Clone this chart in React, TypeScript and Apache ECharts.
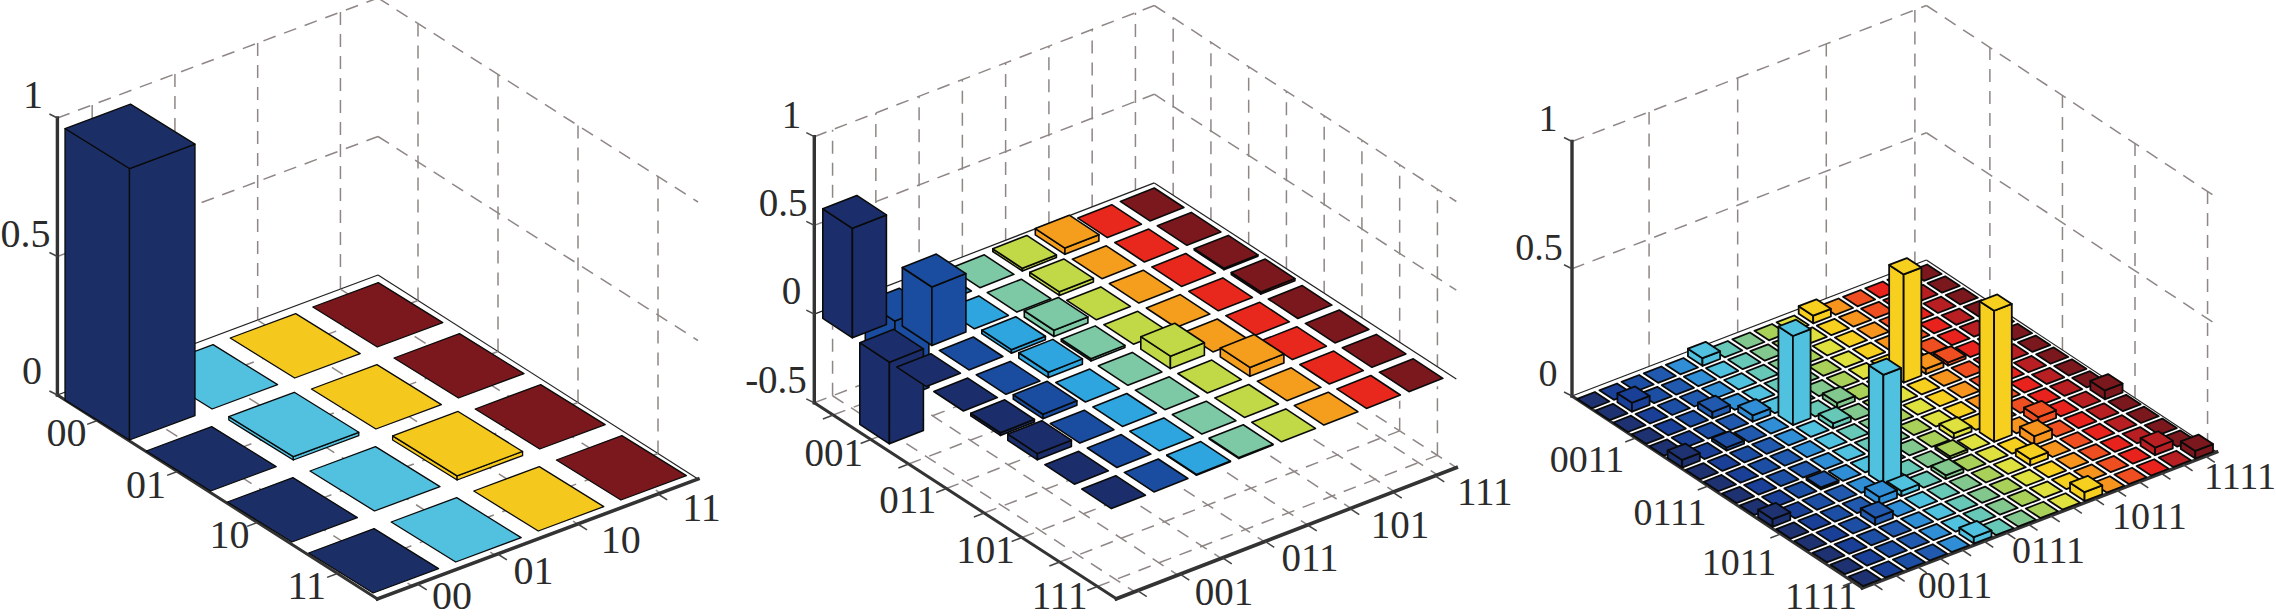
import React, { useEffect, useRef } from "react";
import * as echarts from "echarts";

// ---------- data ----------
const labels4 = ["00", "01", "10", "11"];
const labels8 = ["001", "011", "101", "111"];
const labels16 = ["0011", "0111", "1011", "1111"];
const zLabels1 = ["1", "0.5", "0"];
const zLabels2 = ["1", "0.5", "0", "-0.5"];

const values4: number[][] = [
  [0.98, 0, 0, 0],
  [0, 0.012, 0, 0],
  [0, 0, 0.015, 0],
  [0, 0, 0, 0],
];

const values8: number[][] = [
  [0.617, -0.45, 0, 0, 0.015, 0.035, 0, 0],
  [-0.46, 0.33, 0, 0, 0.02, 0, 0, 0],
  [0, 0, 0.02, 0.035, 0, 0, 0, 0.008],
  [0, 0, 0.03, 0.012, 0, 0, 0, 0.012],
  [0.015, 0.025, 0, 0, 0.07, 0, 0, 0],
  [0.035, 0, 0, 0, 0, 0.05, 0, 0],
  [0, 0, 0, 0, 0, 0, 0, 0],
  [0, 0, 0.004, 0.005, 0, 0, 0, 0],
];

const values16: number[][] = [
  [0, 0, 0, 0, 0, 0.03, 0, 0, 0, 0, 0.03, 0, 0, 0, 0, 0],
  [0, 0.035, 0, 0, 0, 0, 0, 0, 0, 0, 0, 0, 0, 0, 0, 0],
  [0, 0, 0, 0, 0, 0, 0, 0, 0, 0, 0, 0, 0, 0, 0, 0],
  [0, 0, 0, 0.025, 0, 0, 0, 0, 0, 0, 0, 0, 0, 0, 0, 0],
  [0, 0, 0, 0, 0.025, 0, 0, 0, 0, 0, 0, 0, 0, 0, 0, 0],
  [0.03, 0, 0.012, 0, 0, 0.35, 0, 0.02, 0, 0, 0.425, 0.02, 0.012, 0, 0, 0],
  [0, 0, 0, 0, 0, 0, 0.02, 0, 0, 0, 0, 0, 0, 0, 0, 0],
  [0, 0, 0, 0, 0, 0, 0, 0, 0, 0, 0, 0, 0, 0, 0, 0],
  [0, 0, 0, 0, 0, 0, 0, 0, 0, 0, 0, 0, 0, 0, 0, 0],
  [0, 0, 0, 0.008, 0, 0, 0, 0, 0, 0.02, 0, 0, 0, 0, 0, 0],
  [0.03, 0, 0, 0, 0, 0.43, 0, 0, 0.01, 0, 0.515, 0, 0.03, 0, 0, 0.035],
  [0, 0, 0, 0, 0.03, 0.02, 0, 0.015, 0, 0, 0, 0.035, 0, 0, 0, 0],
  [0, 0, 0, 0.028, 0, 0, 0, 0, 0, 0, 0.025, 0, 0, 0, 0, 0],
  [0, 0, 0, 0, 0, 0, 0, 0, 0, 0, 0, 0, 0, 0, 0, 0],
  [0, 0, 0, 0, 0, 0, 0, 0, 0, 0, 0, 0, 0, 0, 0.03, 0],
  [0, 0, 0, 0, 0, 0.025, 0, 0, 0, 0, 0.035, 0, 0, 0, 0, 0.03],
];

const colors4 = ["#1b2e66", "#52c0df", "#f5c81e", "#7b181d"];
const colors8 = ["#1b2e6b", "#1a4da0", "#2ea5de", "#7dc8a5", "#c1d946", "#f59e1d", "#e8281c", "#7b181d"];
const colors16 = [
  "#1e3170", "#193f97", "#1c4ea4", "#2059ad", "#2f8ed5", "#50c2df", "#68c8b8", "#82c88e",
  "#a9d15a", "#dfe23e", "#f7cf1f", "#f6941e", "#ef4f20", "#e8221c", "#b81f23", "#7b181d",
];

// ---------- layout of each panel (projection of the 3D box onto the page) ----------
type V = [number, number];
interface Panel {
  n: number; values: number[][]; colors: string[];
  L: V; a: V; b: V; h: number; zFloor: number; zTicks: number[]; zLabels: string[]; zLabelPos: V[];
  F00: V; sr: V; sc: V; wr: V; wc: V; stroke: number;
  wallIdx: number[]; wallStart: number; wallStep: number;
  rowTickIdx: number[]; colTickIdx: number[];
  rowLabels: string[]; colLabels: string[]; rowLabelPos: V[]; colLabelPos: V[]; fontSize: number;
  gridOverPlane: boolean; floorGrid: boolean;
}

const panels: Panel[] = [
  {
    n: 4, values: values4, colors: colors4,
    L: [57.4, 395], a: [80, 51], b: [80.15, -30], h: 277, zFloor: 0,
    zTicks: [1, 0.5, 0], zLabels: zLabels1, zLabelPos: [[33, 94], [25.5, 233], [32, 370]],
    F00: [129.5, 440], sr: [81.2, 51], sc: [82.6, -31], wr: [64.5, 40], wc: [65.5, -24.4], stroke: 1.3,
    wallIdx: [0, 1, 2, 3], wallStart: 0.4338, wallStep: 1.0325,
    rowTickIdx: [0, 1, 2, 3], colTickIdx: [0, 1, 2, 3],
    rowLabels: labels4, colLabels: labels4,
    rowLabelPos: [[66.6, 432], [146, 484], [229.6, 534], [306.7, 585.5]],
    colLabelPos: [[452, 595], [533.5, 570.5], [620.7, 539], [701.5, 507]],
    fontSize: 40, gridOverPlane: true, floorGrid: true,
  },
  {
    n: 8, values: values8, colors: colors8,
    L: [814.3, 402.8], a: [37.75, 24.5], b: [42.5, -16.4], h: 177.4, zFloor: -0.5,
    zTicks: [1, 0.5, 0, -0.5], zLabels: zLabels2, zLabelPos: [[791.5, 114], [783, 202], [791.5, 290], [776, 379]],
    F00: [852.4, 337.8], sr: [37, 24.4], sc: [42.5, -16.7], wr: [29.6, 19.5], wc: [34, -13.4], stroke: 1.6,
    wallIdx: [0, 1, 2, 3, 4, 5, 6, 7], wallStart: 0.43, wallStep: 1.018,
    rowTickIdx: [0, 1, 2, 3, 4, 5, 6, 7], colTickIdx: [0, 1, 2, 3, 4, 5, 6, 7],
    rowLabels: labels8, colLabels: labels8,
    rowLabelPos: [[833.7, 452], [907.8, 499.8], [985.4, 549], [1059.6, 595]],
    colLabelPos: [[1224, 591], [1310, 557], [1400, 524.6], [1484.7, 491]],
    fontSize: 39, gridOverPlane: false, floorGrid: true,
  },
  {
    n: 16, values: values16, colors: colors16,
    L: [1572, 396], a: [18.14, 12], b: [22.15, -8.5], h: 254.5, zFloor: 0,
    zTicks: [1, 0.5, 0], zLabels: zLabels1, zLabelPos: [[1548, 118], [1539, 247], [1548, 372.5]],
    F00: [1591.7, 408.3], sr: [18.09, 11.85], sc: [22.15, -8.5], wr: [14.5, 9.5], wc: [17.7, -6.8], stroke: 1.8,
    wallIdx: [3, 7, 11, 15], wallStart: 0.48, wallStep: 1,
    rowTickIdx: [3, 7, 11, 15], colTickIdx: [0, 1, 2, 3, 4, 5, 6, 7, 8, 9, 10, 11, 12, 13, 14, 15],
    rowLabels: labels16, colLabels: labels16,
    rowLabelPos: [[1587, 459], [1670, 511.6], [1739, 562], [1821, 596]],
    colLabelPos: [[1955, 584.7], [2048.5, 550], [2149.4, 515.5], [2240, 476]],
    fontSize: 38, gridOverPlane: false, floorGrid: false,
  },
];

const DASH = "#8e8785";
const AXIS = "#333333";
const DASH_STYLE = { stroke: DASH, lineWidth: 1.5, lineDash: [13, 9], fill: "none" };

function frameRenderer(p: Panel) {
  return (_params: any, api: any) => {
    const W = (u: number, v: number, z: number): V =>
      api.coord([
        p.L[0] + u * p.a[0] + v * p.b[0],
        p.L[1] + u * p.a[1] + v * p.b[1] - (z - p.zFloor) * p.h,
      ]);
    const kids: any[] = [];
    const line = (A: V, B: V, style: any) =>
      kids.push({ type: "line", shape: { x1: A[0], y1: A[1], x2: B[0], y2: B[1] }, style });
    const n = p.n;
    const wallV = p.wallIdx.map((i) => p.wallStart + i * p.wallStep);
    const wallU = p.wallIdx.map((i) => i + 0.5);

    // wall levels
    p.zTicks.filter((z) => z > p.zFloor && z !== 0).forEach((z) => {
      line(W(0, 0, z), W(0, n, z), DASH_STYLE);
      line(W(0, n, z), W(n, n, z), DASH_STYLE);
    });
    if (p.zFloor < 0) {
      line(W(0, 0, p.zFloor), W(0, n, p.zFloor), DASH_STYLE);
      line(W(0, n, p.zFloor), W(n, n, p.zFloor), DASH_STYLE);
    }
    // wall verticals
    wallV.forEach((v) => line(W(0, v, p.zFloor), W(0, v, 1), DASH_STYLE));
    wallU.forEach((u) => line(W(u, n, p.zFloor), W(u, n, 1), DASH_STYLE));

    const floorGrid = () => {
      wallV.forEach((v) => line(W(0, v, p.zFloor), W(n, v, p.zFloor), DASH_STYLE));
      wallU.forEach((u) => line(W(u, 0, p.zFloor), W(u, n, p.zFloor), DASH_STYLE));
    };
    if (p.floorGrid && !p.gridOverPlane) floorGrid();

    // base plane at z = 0
    kids.push({
      type: "polygon",
      shape: { points: [W(0, 0, 0), W(0, n, 0), W(n, n, 0), W(n, 0, 0)] },
      style: { fill: "#ffffff", stroke: "none" },
    });
    line(W(0, 0, 0), W(0, n, 0), { stroke: "#222", lineWidth: 1.2 });
    line(W(0, n, 0), W(n, n, 0), { stroke: "#222", lineWidth: 1.2 });
    if (p.floorGrid && p.gridOverPlane) floorGrid();

    // axes
    const axisStyle = { stroke: AXIS, lineWidth: 3.4, lineCap: "square" };
    line(W(0, 0, p.zFloor), W(0, 0, 1), axisStyle);
    line(W(0, 0, p.zFloor), W(n, 0, p.zFloor), { ...axisStyle, lineWidth: 3 });
    line(W(n, 0, p.zFloor), W(n, n, p.zFloor), { ...axisStyle, lineWidth: 3.6 });

    const tickStyle = { stroke: "#444", lineWidth: 1.5 };
    p.zTicks.forEach((z) => {
      const A = W(0, 0, z);
      line(A, [A[0] - 8, A[1] - 4], tickStyle);
    });
    const unit = (d: V): V => {
      const l = Math.hypot(d[0], d[1]);
      return [d[0] / l, d[1] / l];
    };
    const ub = unit(p.b);
    const ua = unit(p.a);
    p.rowTickIdx.forEach((i) => {
      const A = W(i + 0.5, 0, p.zFloor);
      line(A, [A[0] - ub[0] * 11, A[1] - ub[1] * 11], tickStyle);
    });
    p.colTickIdx.forEach((i) => {
      const A = W(n, i + 0.5, p.zFloor);
      line(A, [A[0] + ua[0] * 11, A[1] + ua[1] * 11], tickStyle);
    });

    // texts
    const text = (s: string, pos: V) => {
      const c = api.coord(pos);
      kids.push({
        type: "text",
        style: {
          text: s, x: c[0], y: c[1], fill: "#2b2b2b",
          fontFamily: "Liberation Serif", fontSize: p.fontSize, textAlign: "center", textVerticalAlign: "middle",
        },
      });
    };
    p.zLabels.forEach((s, i) => text(s, p.zLabelPos[i]));
    p.rowLabels.forEach((s, i) => text(s, p.rowLabelPos[i]));
    p.colLabels.forEach((s, i) => text(s, p.colLabelPos[i]));
    return { type: "group", children: kids };
  };
}

function barRenderer(p: Panel) {
  return (_params: any, api: any) => {
    const r = api.value(0);
    const c = api.value(1);
    const z = api.value(2);
    const fill = p.colors[c];
    const fx = p.F00[0] + r * p.sr[0] + c * p.sc[0];
    const fy = p.F00[1] + r * p.sr[1] + c * p.sc[1];
    const pt = (x: number, y: number, zz: number): V => api.coord([x, y - zz * p.h]);
    const lx = fx - p.wr[0], ly = fy - p.wr[1];
    const rx = fx + p.wc[0], ry = fy + p.wc[1];
    const bx = lx + p.wc[0], by = ly + p.wc[1];
    const top = Math.max(z, 0), bot = Math.min(z, 0);
    const style = { fill, stroke: "#0a0a0a", lineWidth: p.stroke, lineJoin: "round" };
    const kids: any[] = [];
    if (z !== 0) {
      kids.push({ type: "polygon", shape: { points: [pt(lx, ly, top), pt(fx, fy, top), pt(fx, fy, bot), pt(lx, ly, bot)] }, style });
      kids.push({ type: "polygon", shape: { points: [pt(fx, fy, top), pt(rx, ry, top), pt(rx, ry, bot), pt(fx, fy, bot)] }, style });
    }
    kids.push({ type: "polygon", shape: { points: [pt(lx, ly, top), pt(fx, fy, top), pt(rx, ry, top), pt(bx, by, top)] }, style });
    return { type: "group", children: kids };
  };
}

function cells(values: number[][]) {
  const out: number[][] = [];
  values.forEach((row, r) => row.forEach((v, c) => out.push([r, c, v])));
  return out.sort((A, B) => A[0] - A[1] - (B[0] - B[1]));
}

export default function App() {
  const ref = useRef<HTMLDivElement>(null);
  useEffect(() => {
    document.body.style.margin = "0";
    const chart = echarts.init(ref.current!, undefined, { renderer: "svg" });
    const series: any[] = [];
    panels.forEach((p, i) => {
      series.push({
        type: "custom", name: `frame${i}`, coordinateSystem: "cartesian2d", silent: true, clip: false,
        renderItem: frameRenderer(p), data: [[0, 0]], encode: { x: 0, y: 1 },
      });
      series.push({
        type: "custom", name: `bars${i}`, coordinateSystem: "cartesian2d", silent: true, clip: false,
        renderItem: barRenderer(p), data: cells(p.values), encode: { x: 0, y: 1 },
      });
    });
    chart.setOption({
      animation: false,
      backgroundColor: "#ffffff",
      grid: { left: 0, top: 0, right: 0, bottom: 0 },
      xAxis: { type: "value", min: 0, max: 2276, show: false },
      yAxis: { type: "value", min: 0, max: 616, inverse: true, show: false },
      series,
    });
    return () => chart.dispose();
  }, []);
  return <div ref={ref} style={{ position: "absolute", left: 0, top: 0, width: 2276, height: 616 }} />;
}
